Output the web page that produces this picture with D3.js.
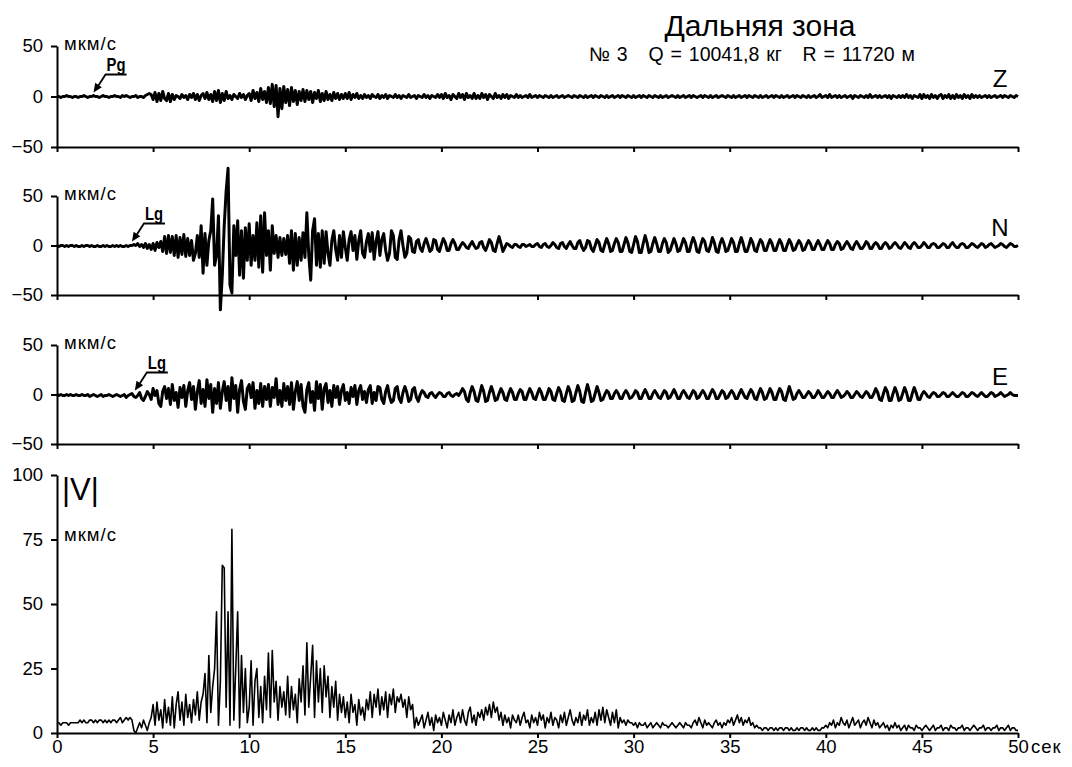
<!DOCTYPE html>
<html>
<head>
<meta charset="utf-8">
<script src="https://cdn.jsdelivr.net/npm/d3@7"></script>
<style>
  body { margin: 0; background: #fff; }
  svg { display: block; font-family: "Liberation Sans", Arial, sans-serif; }
  .axis path, .axis line { stroke: #000; stroke-width: 2; }
  .axis text { font-size: 18.5px; fill: #000; font-family: "Liberation Sans", Arial, sans-serif; }
</style>
</head>
<body>
<div id="chart-area"></div>
<script>

// sampling step of the traces, seconds
const dt = 0.1;

// vertical component Z, мкм/с (one row = 1 s)
const zTrace = [
  0,0,-1,0,0,1,0,0,-1,0,
  0,-1,0,0,1,0,-1,0,0,1,
  0,0,-1,0,1,0,0,-1,0,0,
  1,0,0,-1,1,0,1,0,-1,0,
  0,1,-1,0,0,-1,1,2,3,2,
  -3,4,-5,3,-4,5,-2,-4,3,-5,
  2,-3,1,0,-2,2,-1,1,-3,2,
  -1,3,-3,2,-4,1,3,-2,4,-3,
  2,-5,5,-4,6,-6,3,-4,5,-2,
  1,-3,2,0,-2,3,-1,2,-3,1,
  3,-4,6,-2,4,-5,8,-3,5,-6,
  9,-7,12,-10,11,-20,8,-12,10,-6,
  7,-9,9,-5,6,-8,5,-4,7,-5,
  6,-3,5,-6,4,-2,6,-5,3,-4,
  5,-3,2,-4,4,-2,3,-3,2,-2,
  3,-2,4,-3,2,-1,3,-2,1,-2,
  2,-1,1,-2,2,0,-1,2,-2,1,
  -1,2,-2,1,0,-1,2,-1,1,-2,
  1,0,-1,2,-1,0,1,-2,1,0,
  -1,2,-1,1,-2,1,0,-1,2,-1,
  2,-2,3,-1,1,-3,2,0,-2,3,
  -1,2,-3,3,-1,1,-2,3,-2,1,
  -2,3,-1,2,-3,2,0,-2,3,-1,
  1,-2,2,-1,2,-2,1,0,-1,2,
  -1,1,-1,0,1,-1,2,-1,0,1,
  -1,1,0,-1,1,0,-1,1,-1,0,
  1,-1,0,1,-1,0,1,0,-1,1,
  0,-1,1,0,-1,1,-1,0,1,-1,
  1,0,-1,1,0,-1,1,-1,0,1,
  -1,0,1,-1,1,0,-1,1,0,-1,
  1,-1,0,1,-1,1,0,-1,1,0,
  -1,1,0,-1,1,-1,0,1,-1,0,
  1,0,-1,1,-1,0,1,-1,0,1,
  -1,1,0,-1,0,1,-1,1,0,-1,
  1,-1,0,1,-1,0,1,0,-1,1,
  0,-1,1,-1,0,1,-1,0,1,-1,
  1,0,-1,1,0,-1,1,-1,0,1,
  -1,0,1,-1,1,0,-1,1,-1,0,
  1,-1,0,1,-1,1,0,-1,1,0,
  -1,1,-1,0,1,-1,0,2,-1,0,
  1,-1,2,-1,0,1,-1,1,-1,0,
  1,-1,0,1,-2,1,0,-1,1,0,
  -1,1,-1,2,-1,0,1,-1,1,-1,
  0,1,-1,1,-2,1,0,-1,1,-1,
  1,-1,2,-1,1,-2,1,0,-1,2,
  -2,2,-1,1,-2,2,-1,1,-2,1,
  2,-2,1,-1,2,-2,1,-2,2,-1,
  1,-2,2,-1,1,-2,2,-1,1,-1,
  1,-1,0,1,-1,1,-1,0,1,-1,
  0,1,-1,1,0,-1,1,0,-1,1,
  0
];

// horizontal component N, мкм/с
const nTrace = [
  0,-1,0,0,-1,0,-1,0,0,-1,
  0,-1,-1,0,-1,0,0,-1,0,-1,
  -1,0,-1,-1,0,-1,0,-1,-1,0,
  -1,0,-1,0,-1,-1,0,-1,0,0,
  1,0,2,-1,1,-2,2,-3,1,-4,
  2,-5,3,-2,4,-6,9,-8,10,-7,
  9,-10,10,-12,8,-9,11,-11,7,-10,
  5,-15,-8,10,-12,20,-28,12,-20,5,
  15,47,-20,-10,30,-65,-30,20,55,78,
  -40,-48,20,-10,25,-30,15,-33,18,-15,
  22,-20,10,-15,23,-22,30,-27,33,-10,
  15,-25,20,-8,10,-12,8,-10,7,-9,
  10,-18,15,-25,12,-20,8,-15,13,-12,
  33,-10,-35,15,27,-20,12,-22,15,-18,
  14,-8,-20,5,15,-4,-15,10,-12,14,
  -2,-15,6,14,-5,10,-14,5,15,-8,
  -12,4,12,-6,13,-14,4,14,-10,6,
  12,-5,-15,-8,15,10,-12,-14,6,15,
  0,-12,-8,9,7,-6,-7,4,6,-3,
  -6,2,7,1,-6,-4,6,5,-4,-6,
  1,7,3,-5,-5,2,6,2,-4,-4,
  0,3,1,-2,-3,1,4,0,-3,-2,
  3,4,-2,-5,0,6,3,-5,-6,2,
  9,2,-6,-2,2,1,-1,-2,1,1,
  -1,-2,1,1,-1,0,1,-1,-1,1,
  2,-1,-2,1,2,-1,-2,0,3,1,
  -2,-3,2,3,-1,-3,1,4,0,-3,
  -3,3,5,-1,-5,-2,5,4,-3,-6,
  0,6,3,-5,-6,1,7,2,-6,-5,
  2,7,3,-6,-6,1,8,3,-6,-7,
  1,9,4,-7,-7,2,10,3,-7,-6,
  2,8,2,-6,-6,2,7,3,-7,-5,
  1,7,2,-6,-5,1,7,3,-6,-6,
  2,8,3,-6,-7,1,7,4,-5,-6,
  0,8,3,-6,-7,2,7,2,-6,-5,
  1,7,3,-6,-6,2,8,2,-6,-6,
  0,7,3,-5,-6,1,6,3,-5,-5,
  1,6,2,-5,-5,1,6,2,-5,-5,
  1,6,2,-5,-4,1,5,2,-5,-4,
  1,5,2,-4,-4,1,5,1,-4,-4,
  1,5,2,-4,-4,1,4,2,-4,-3,
  1,4,1,-3,-4,1,4,1,-3,-3,
  0,4,2,-3,-3,1,3,1,-3,-3,
  1,3,1,-3,-2,1,3,1,-2,-3,
  0,3,1,-2,-3,1,3,1,-2,-2,
  0,3,1,-2,-2,1,2,1,-2,-2,
  0,2,1,-2,-2,1,3,0,-2,-2,
  1,2,1,-2,-2,0,2,1,-1,-2,
  0,2,1,-2,-1,1,2,0,-2,-1,
  0,2,1,-1,-2,0,2,1,-1,-1,
  0
];

// horizontal component E, мкм/с
const eTrace = [
  0,-1,0,-1,-1,0,-1,0,-1,-1,
  0,-1,-1,0,-1,-1,0,-2,-1,0,
  -1,-2,-1,0,-2,-1,-1,0,-1,-2,
  -1,0,-1,-2,-1,0,-3,-1,0,1,
  -2,-3,-1,2,-4,-6,-2,3,0,-5,
  6,-1,4,-9,-12,3,8,-4,6,-10,
  10,-6,2,-13,7,-3,9,-12,4,12,
  -5,8,-15,3,14,-9,5,-12,15,-4,
  10,-18,6,-9,12,-14,3,13,-6,8,
  -16,17,-4,9,-18,5,14,-7,-15,6,
  10,-3,12,-14,4,-9,11,-12,8,-5,
  10,-12,7,-3,16,-10,4,-12,11,-6,
  8,-10,12,-15,3,13,-6,10,-12,-18,
  5,12,-8,3,-16,13,-4,10,-15,6,
  11,-8,4,-12,9,-3,8,-10,4,10,
  -6,2,-9,7,-2,9,-10,4,9,-5,
  3,-8,5,9,-9,2,-6,8,7,-5,
  -9,3,9,-2,-8,-6,6,8,-4,-8,
  2,8,2,-7,-5,5,7,-3,-7,0,
  4,2,-2,-3,1,2,-1,-3,0,2,
  1,-2,-2,1,2,-1,-2,0,1,-1,
  2,6,3,-5,-7,2,8,3,-6,-7,
  1,9,3,-7,-6,2,8,2,-6,-5,
  1,6,2,-5,-6,1,6,2,-5,-5,
  1,5,3,-5,-5,1,6,2,-4,-5,
  1,6,2,-5,-5,0,6,3,-5,-6,
  1,7,3,-6,-7,1,8,3,-7,-6,
  2,9,3,-7,-8,2,10,3,-7,-6,
  1,8,2,-6,-5,0,4,2,-4,-4,
  1,4,1,-4,-4,1,4,1,-4,-3,
  0,4,2,-4,-4,1,5,1,-4,-4,
  1,4,1,-3,-4,0,4,2,-4,-3,
  1,5,1,-4,-4,1,4,1,-3,-4,
  0,4,2,-4,-3,1,4,1,-4,-4,
  1,5,2,-4,-4,0,4,2,-4,-3,
  1,4,1,-4,-4,1,5,1,-3,-4,
  1,5,2,-4,-5,1,6,2,-5,-4,
  1,6,2,-5,-5,1,6,3,-5,-6,
  1,8,2,-5,-4,1,4,1,-3,-3,
  0,3,1,-3,-3,0,4,1,-3,-3,
  0,3,1,-3,-3,1,4,1,-3,-2,
  0,3,1,-3,-3,0,3,1,-2,-3,
  0,3,1,-3,-3,1,6,2,-5,-6,
  1,7,3,-6,-6,1,7,2,-6,-5,
  1,7,2,-6,-6,1,7,2,-5,-5,
  0,3,1,-2,-3,0,2,1,-2,-2,
  0,2,1,-2,-2,0,2,0,-2,-2,
  0,2,1,-2,-2,0,2,1,-1,-2,
  0,2,0,-2,-2,0,2,1,-2,-1,
  0,2,0,-2,-1,0,2,0,-1,-1,
  -1
];

// modulus of velocity |V|, мкм/с
const vTrace = [
  4,4,3,4,4,4,3,4,4,4,
  4,4,5,4,5,4,4,5,5,4,
  5,4,5,5,4,5,4,5,4,5,
  5,4,5,6,4,5,6,5,6,5,
  1,0,2,4,2,5,3,1,4,6,
  11,3,12,5,9,2,13,4,10,3,
  14,2,11,16,5,12,3,15,6,11,
  4,13,7,16,5,12,15,23,4,30,
  8,18,25,47,3,20,65,64,10,47,
  3,79,5,25,47,2,30,8,25,4,
  10,28,3,20,25,6,18,4,22,9,
  31,6,32,12,20,5,18,10,16,7,
  22,6,18,9,15,4,21,12,26,7,
  35,10,22,34,6,28,12,25,8,26,
  14,22,6,18,10,20,5,15,8,14,
  6,12,4,15,8,11,3,13,7,10,
  5,13,9,16,6,15,10,17,7,14,
  9,16,6,15,11,17,8,14,12,15,
  10,13,6,14,9,11,2,6,3,5,
  7,2,5,8,3,6,1,7,4,6,
  3,8,5,2,7,4,9,3,6,8,
  4,9,5,3,8,10,4,7,3,8,
  6,9,5,10,7,11,6,12,8,10,
  5,8,3,7,4,6,2,7,5,4,
  7,3,6,8,4,5,2,7,4,6,
  3,8,5,7,2,6,4,8,3,6,
  5,2,7,4,8,3,6,9,5,3,
  6,4,8,3,7,5,9,3,6,4,
  8,3,9,5,10,4,9,6,3,8,
  4,9,2,6,4,5,3,5,4,4,
  3,4,2,4,3,3,4,2,3,4,
  2,3,4,3,2,4,3,3,2,3,
  4,3,2,3,4,3,2,4,3,3,
  2,4,5,3,6,4,2,5,3,4,
  3,2,4,5,3,4,2,4,3,5,
  4,6,3,5,7,4,6,3,5,4,
  6,3,4,2,3,2,2,1,2,2,
  1,2,2,1,2,1,2,2,1,2,
  2,1,2,1,1,2,1,2,2,1,
  2,1,1,2,1,2,1,1,2,2,
  3,2,4,3,5,2,4,3,6,4,
  3,5,2,4,6,3,4,5,2,4,
  5,3,6,4,2,5,3,4,2,3,
  4,2,3,1,3,2,4,2,3,1,
  2,3,1,3,2,2,1,3,2,2,
  1,2,3,2,1,2,3,1,2,2,
  3,1,2,2,1,3,2,2,1,2,
  2,3,1,2,2,1,2,3,2,1,
  2,2,3,1,2,2,1,2,2,3,
  1,2,2,1,2,3,1,2,2,1,
  1
];

const timeTicks = [0, 5, 10, 15, 20, 25, 30, 35, 40, 45, 50];
const waveTicks = [-50, 0, 50];
const modTicks = [0, 25, 50, 75, 100];

// phase arrivals picked on the traces (s)
const phaseNames = ["Pg", "Lg", "Lg"];
const phaseTimes = [1.9, 3.9, 4.05];

const titleText = "Дальняя зона";
const subtitleText = "№ 3   Q = 10041,8 кг   R = 11720 м";
const unitText = "мкм/с";

// ---------------------------------------------------------------

const width = 1072, height = 767;

const svg = d3.select("#chart-area").append("svg")
  .attr("width", width)
  .attr("height", height);

svg.append("rect").attr("width", width).attr("height", height).attr("fill", "#fff");

const x = d3.scaleLinear().domain([0, 50]).range([57, 1018]);

const panels = [
  { name: "Z", data: zTrace, top: 46, bottom: 147, domain: [-50, 50], ticks: waveTicks, phase: 0 },
  { name: "N", data: nTrace, top: 196, bottom: 295, domain: [-50, 50], ticks: waveTicks, phase: 1 },
  { name: "E", data: eTrace, top: 345, bottom: 444, domain: [-50, 50], ticks: waveTicks, phase: 2 },
  { name: "V", data: vTrace, top: 475, bottom: 733, domain: [0, 100], ticks: modTicks, phase: -1 }
];

panels.forEach(function(p, k) {
  let last = k === panels.length - 1;
  let y = d3.scaleLinear().domain(p.domain).range([p.bottom, p.top]);

  // trace
  let line = d3.line()
    .x((d, i) => x(i * dt))
    .y(d => y(d));

  svg.append("path")
    .datum(p.data)
    .attr("fill", "none")
    .attr("stroke", "#000")
    .attr("stroke-width", last ? 1.6 : 3)
    .attr("stroke-linejoin", "round")
    .attr("d", line);

  // axes
  let yAxis = d3.axisLeft(y)
    .tickValues(p.ticks)
    .tickSize(6)
    .tickSizeOuter(0)
    .tickPadding(8)
    .tickFormat(d3.format("d"));

  svg.append("g")
    .attr("class", "axis")
    .attr("transform", "translate(" + x(0) + ",0)")
    .call(yAxis);

  let xAxis = d3.axisBottom(x)
    .tickValues(timeTicks)
    .tickSize(5)
    .tickSizeOuter(0)
    .tickPadding(2)
    .tickFormat(last ? d3.format("d") : "");

  svg.append("g")
    .attr("class", "axis")
    .attr("transform", "translate(0," + p.bottom + ")")
    .call(xAxis);

  // unit label
  if (!last) {
    svg.append("text")
      .attr("x", 64)
      .attr("y", p.top + 4)
      .attr("font-size", 18.5)
      .attr("letter-spacing", 1)
      .text(unitText);

    svg.append("text")
      .attr("x", 1000)
      .attr("y", y(0) - 10)
      .attr("text-anchor", "middle")
      .attr("font-size", 24)
      .text(p.name);
  } else {
    svg.append("text")
      .attr("x", 62)
      .attr("y", p.top + 25)
      .attr("font-size", 31)
      .text("|V|");

    svg.append("text")
      .attr("x", 64)
      .attr("y", p.top + 66)
      .attr("font-size", 18.5)
      .attr("letter-spacing", 1)
      .text(unitText);

    svg.append("text")
      .attr("x", x(50) + 13)
      .attr("y", p.bottom + 20)
      .attr("font-size", 18.5)
      .attr("letter-spacing", 1)
      .text("сек");
  }

  // phase arrival arrow
  if (p.phase >= 0) {
    let t = phaseTimes[p.phase];
    let tipX = x(t), tipY = y(0) - 4;
    let sx = tipX + 12, sy = tipY - 18;
    let g = svg.append("g");

    g.append("path")
      .attr("d", "M" + (sx + 21) + "," + sy + "H" + sx + "L" + (tipX + 3) + "," + (tipY - 4))
      .attr("fill", "none")
      .attr("stroke", "#000")
      .attr("stroke-width", 1.8);

    // arrow head
    let ang = Math.atan2(tipY - sy, tipX - sx);
    let hl = 9, hw = 4;
    let bx = tipX - hl * Math.cos(ang), by = tipY - hl * Math.sin(ang);
    g.append("path")
      .attr("d", "M" + tipX + "," + tipY +
        "L" + (bx + hw * Math.sin(ang)) + "," + (by - hw * Math.cos(ang)) +
        "L" + (bx - hw * Math.sin(ang)) + "," + (by + hw * Math.cos(ang)) + "Z")
      .attr("fill", "#000");

    g.append("text")
      .attr("transform", "translate(" + (sx + 1) + "," + (sy - 4) + ") scale(0.78,1)")
      .attr("font-size", 19)
      .attr("font-weight", "bold")
      .text(phaseNames[p.phase]);
  }
});

// titles
svg.append("text")
  .attr("x", 760)
  .attr("y", 36)
  .attr("text-anchor", "middle")
  .attr("font-size", 30)
  .text(titleText);

svg.append("text")
  .attr("x", 752)
  .attr("y", 61)
  .attr("text-anchor", "middle")
  .attr("font-size", 19.5)
  .attr("word-spacing", 1.5)
  .style("white-space", "pre")
  .text(subtitleText);

</script>
</body>
</html>
